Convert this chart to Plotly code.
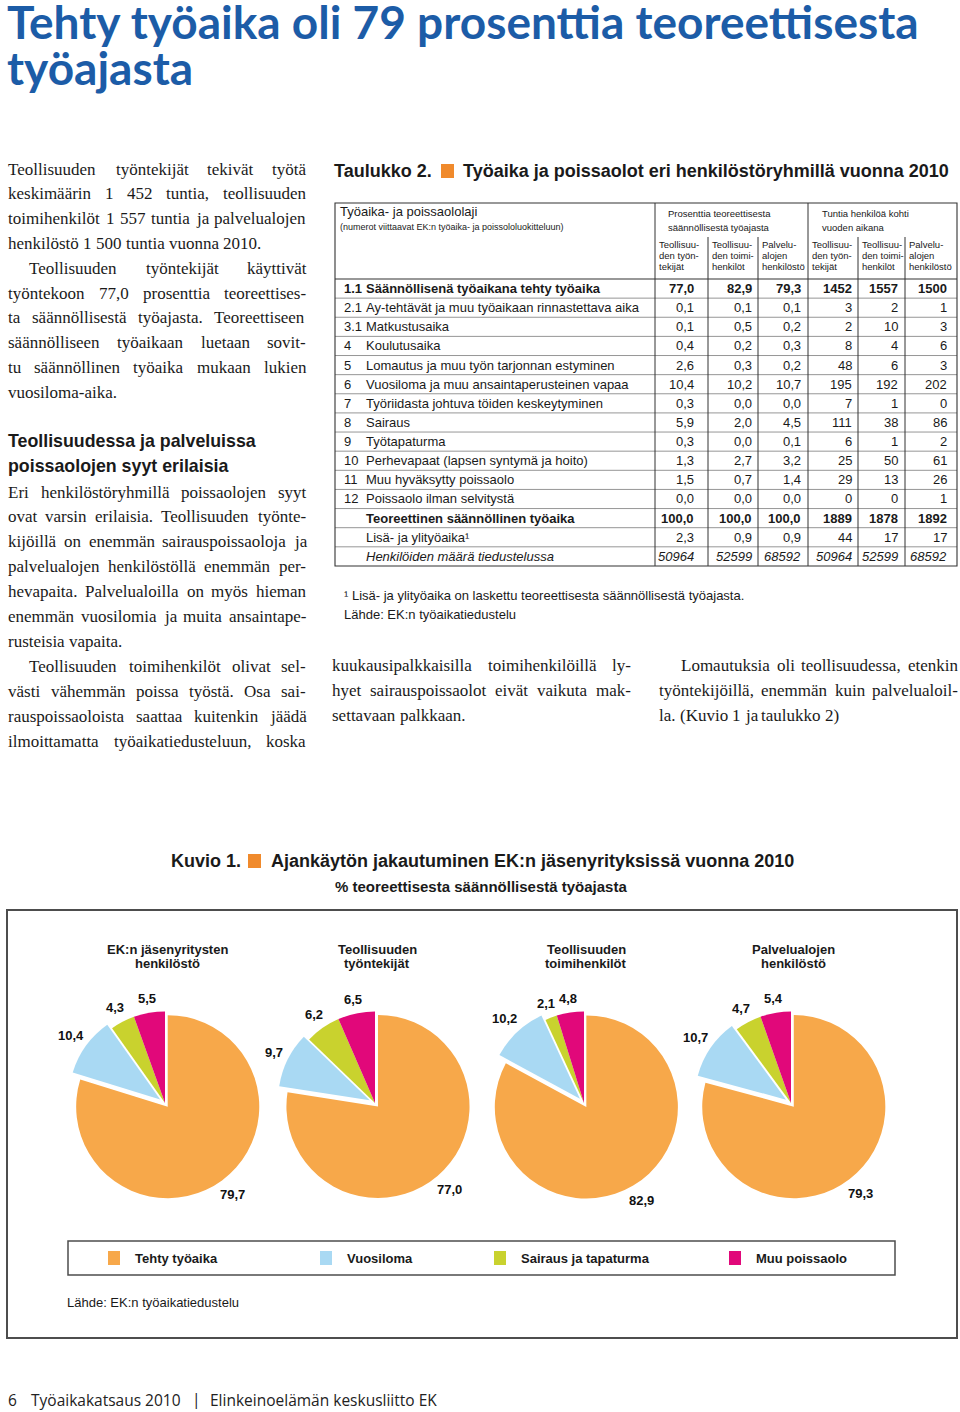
import math
import plotly.graph_objects as go

W, H = 960, 1412


def X(px):
    return px / W


def Y(py):
    return 1 - py / H


SANS = "Liberation Sans, Arial, Helvetica, sans-serif"
SERIF = "Liberation Serif, Times New Roman, serif"
TITLE_FONT = "Lato, Open Sans, sans-serif"
FOOT_FONT = "Open Sans, Lato, sans-serif"
INK = "#1a1a1a"

# ---------------- data ----------------
page_title = ["Tehty työaika oli 79 prosenttia teoreettisesta", "työajasta"]

pie_groups = [["EK:n jäsenyritysten", "henkilöstö"],
              ["Teollisuuden", "työntekijät"],
              ["Teollisuuden", "toimihenkilöt"],
              ["Palvelualojen", "henkilöstö"]]
time_categories = ["Tehty työaika", "Vuosiloma", "Sairaus ja tapaturma", "Muu poissaolo"]
category_colors = ["#F7A84A", "#A9D9F3", "#C9D22E", "#E1087A"]
share_ek = [79.7, 10.4, 4.3, 5.5]
share_tyontekijat = [77.0, 9.7, 6.2, 6.5]
share_toimihenkilot = [82.9, 10.2, 2.1, 4.8]
share_palvelu = [79.3, 10.7, 4.7, 5.4]

row_codes = ["1.1", "2.1", "3.1", "4", "5", "6", "7", "8", "9", "10", "11", "12", "", "", ""]
row_names = ["Säännöllisenä työaikana tehty työaika",
             "Ay-tehtävät ja muu työaikaan rinnastettava aika",
             "Matkustusaika",
             "Koulutusaika",
             "Lomautus ja muu työn tarjonnan estyminen",
             "Vuosiloma ja muu ansaintaperusteinen vapaa",
             "Työriidasta johtuva töiden keskeytyminen",
             "Sairaus",
             "Työtapaturma",
             "Perhevapaat (lapsen syntymä ja hoito)",
             "Muu hyväksytty poissaolo",
             "Poissaolo ilman selvitystä",
             "Teoreettinen säännöllinen työaika",
             "Lisä- ja ylityöaika¹",
             "Henkilöiden määrä tiedustelussa"]
pct_tyontekijat = [77.0, 0.1, 0.1, 0.4, 2.6, 10.4, 0.3, 5.9, 0.3, 1.3, 1.5, 0.0, 100.0, 2.3]
pct_toimihenkilot = [82.9, 0.1, 0.5, 0.2, 0.3, 10.2, 0.0, 2.0, 0.0, 2.7, 0.7, 0.0, 100.0, 0.9]
pct_palvelu = [79.3, 0.1, 0.2, 0.3, 0.2, 10.7, 0.0, 4.5, 0.1, 3.2, 1.4, 0.0, 100.0, 0.9]
hours_tyontekijat = [1452, 3, 2, 8, 48, 195, 7, 111, 6, 25, 29, 0, 1889, 44]
hours_toimihenkilot = [1557, 2, 10, 4, 6, 192, 1, 38, 1, 50, 13, 0, 1878, 17]
hours_palvelu = [1500, 1, 3, 6, 3, 202, 0, 86, 2, 61, 26, 1, 1892, 17]
respondents = [50964, 52599, 68592]
column_heads = [["Teollisuu-", "den työn-", "tekijät"],
                ["Teollisuu-", "den toimi-", "henkilöt"],
                ["Palvelu-", "alojen", "henkilöstö"]]

left_column = [
    ("Teollisuuden työntekijät tekivät työtä", 0, True),
    ("keskimäärin 1 452 tuntia, teollisuuden", 0, True),
    ("toimihenkilöt 1 557 tuntia ja palvelualojen", 0, True),
    ("henkilöstö 1 500 tuntia vuonna 2010.", 0, False),
    ("Teollisuuden työntekijät käyttivät", 21, True),
    ("työntekoon 77,0 prosenttia teoreettises-", 0, True),
    ("ta säännöllisestä työajasta. Teoreettiseen", 0, True),
    ("säännölliseen työaikaan luetaan sovit-", 0, True),
    ("tu säännöllinen työaika mukaan lukien", 0, True),
    ("vuosiloma-aika.", 0, False),
]
left_heading = ["Teollisuudessa ja palveluissa", "poissaolojen syyt erilaisia"]
left_column2 = [
    ("Eri henkilöstöryhmillä poissaolojen syyt", 0, True),
    ("ovat varsin erilaisia. Teollisuuden työnte-", 0, True),
    ("kijöillä on enemmän sairauspoissaoloja ja", 0, True),
    ("palvelualojen henkilöstöllä enemmän per-", 0, True),
    ("hevapaita. Palvelualoilla on myös hieman", 0, True),
    ("enemmän vuosilomia ja muita ansaintape-", 0, True),
    ("rusteisia vapaita.", 0, False),
    ("Teollisuuden toimihenkilöt olivat sel-", 21, True),
    ("västi vähemmän poissa työstä. Osa sai-", 0, True),
    ("rauspoissaoloista saattaa kuitenkin jäädä", 0, True),
    ("ilmoittamatta työaikatiedusteluun, koska", 0, True),
]
middle_column = [
    ("kuukausipalkkaisilla toimihenkilöillä ly-", 0, True),
    ("hyet sairauspoissaolot eivät vaikuta mak-", 0, True),
    ("settavaan palkkaan.", 0, False),
]
right_column = [
    ("Lomautuksia oli teollisuudessa, etenkin", 22, True),
    ("työntekijöillä, enemmän kuin palvelualoil-", 0, True),
    ("la. (Kuvio 1 ja taulukko 2)", 0, False),
]

# Times/Liberation Serif advance widths (1/1000 em)
TW = {' ': 250, 'a': 444, 'b': 500, 'c': 444, 'd': 500, 'e': 444, 'f': 333, 'g': 500, 'h': 500,
      'i': 278, 'j': 278, 'k': 500, 'l': 278, 'm': 778, 'n': 500, 'o': 500, 'p': 500, 'q': 500,
      'r': 333, 's': 389, 't': 278, 'u': 500, 'v': 500, 'w': 722, 'x': 500, 'y': 500, 'z': 444,
      'ä': 444, 'ö': 500, 'å': 444,
      'A': 722, 'B': 667, 'C': 667, 'D': 722, 'E': 611, 'F': 556, 'G': 722, 'H': 722, 'I': 333,
      'J': 389, 'K': 722, 'L': 611, 'M': 889, 'N': 722, 'O': 722, 'P': 556, 'Q': 722, 'R': 667,
      'S': 556, 'T': 611, 'U': 722, 'V': 722, 'W': 944, 'X': 722, 'Y': 722, 'Z': 611,
      ',': 250, '.': 250, '-': 333, '(': 333, ')': 333, ':': 278}
for d in "0123456789":
    TW[d] = 500

annotations = []
shapes = []


def txt(x, y, s, size, family=SANS, color=INK, bold=False, italic=False,
        xanchor="left", yanchor="middle"):
    if bold:
        s = f"<b>{s}</b>"
    if italic:
        s = f"<i>{s}</i>"
    annotations.append(dict(x=X(x), y=Y(y), xref="paper", yref="paper", text=s,
                            showarrow=False, xanchor=xanchor, yanchor=yanchor,
                            font=dict(family=family, size=size, color=color)))


def rect(x0, y0, x1, y1, color, width=1.0, fill=None):
    shapes.append(dict(type="rect", xref="paper", yref="paper",
                       x0=X(x0), x1=X(x1), y0=Y(y1), y1=Y(y0),
                       line=dict(color=color, width=width),
                       fillcolor=fill if fill else "rgba(0,0,0,0)"))


def line(x0, y0, x1, y1, color="#333", width=1.0):
    shapes.append(dict(type="line", xref="paper", yref="paper",
                       x0=X(x0), x1=X(x1), y0=Y(y0), y1=Y(y1),
                       line=dict(color=color, width=width)))


def word_w(word, size):
    return sum(TW.get(c, 500) for c in word) * size / 1000.0


def paragraph(lines, x0, x1, y0, dy, size=17):
    for k, (text, indent, justify) in enumerate(lines):
        y = y0 + k * dy
        words = text.split(" ")
        widths = [word_w(w, size) for w in words]
        start = x0 + indent
        if justify and len(words) > 1:
            gap = (x1 - start - sum(widths)) / (len(words) - 1)
        else:
            gap = TW[' '] * size / 1000.0
        x = start
        for w, ww in zip(words, widths):
            txt(x - 1, y, w, size, family=SERIF)
            x += ww + gap


# ---------------- page title ----------------
txt(5, 22, page_title[0], 46, family=TITLE_FONT, color="#1c5ca7", bold=True)
txt(5, 67, page_title[1], 46, family=TITLE_FONT, color="#1c5ca7", bold=True)

# ---------------- body text ----------------
paragraph(left_column, 7, 305, 169, 24.8)
txt(6, 441, left_heading[0], 17.8, bold=True)
txt(6, 466, left_heading[1], 17.8, bold=True)
paragraph(left_column2, 7, 305, 492, 24.9)
paragraph(middle_column, 331, 630, 666, 24.9)
paragraph(right_column, 658, 957, 666, 24.9)

# ---------------- table ----------------
txt(332, 171, "Taulukko 2.", 18, bold=True)
rect(441, 164, 454, 178, "#F08A2C", width=0, fill="#F08A2C")
txt(461, 171, "Työaika ja poissaolot eri henkilöstöryhmillä vuonna 2010", 18, bold=True)

col_edges = [335, 655, 708, 758, 808, 858, 905, 957]
value_right = [695, 753, 802, 853, 899, 948]
T_TOP, T_SUB, T_HEAD = 203, 237, 279
ROW_H = 19.13
n_rows = len(row_names)
T_BOT = T_HEAD + n_rows * ROW_H

for i in range(1, n_rows):
    yy = T_HEAD + i * ROW_H
    line(col_edges[0], yy, col_edges[-1], yy, "#8a8a8a", 0.9)
line(col_edges[0], T_HEAD, col_edges[-1], T_HEAD, "#333", 1.1)
for k, xe in enumerate(col_edges[1:-1], start=1):
    top = T_TOP if k in (1, 4) else T_SUB
    line(xe, top, xe, T_BOT, "#333", 1.0)
rect(col_edges[0], T_TOP, col_edges[-1], T_BOT, "#333", 1.1)

txt(338, 212, "Työaika- ja poissaololaji", 13)
txt(338, 227, "(numerot viittaavat EK:n työaika- ja poissololuokitteluun)", 9)
txt(666, 213, "Prosenttia teoreettisesta", 9.5)
txt(666, 227, "säännöllisestä työajasta", 9.5)
txt(820, 213, "Tuntia henkilöä kohti", 9.5)
txt(820, 227, "vuoden aikana", 9.5)
for c in range(6):
    head = column_heads[c % 3]
    for j, part in enumerate(head):
        txt(col_edges[c + 1] + 2, 245 + j * 10.6, part, 9.5)

value_cols = [pct_tyontekijat, pct_toimihenkilot, pct_palvelu,
              hours_tyontekijat, hours_toimihenkilot, hours_palvelu]
for i in range(n_rows):
    yc = T_HEAD + (i + 0.5) * ROW_H
    bold = i in (0, 12)
    italic = i == 14
    if row_codes[i]:
        txt(342, yc, row_codes[i], 13, bold=bold)
    txt(364, yc, row_names[i], 13, bold=bold, italic=italic)
    for c in range(6):
        if i < len(value_cols[c]):
            v = value_cols[c][i]
            s = f"{v:.1f}".replace(".", ",") if c < 3 else f"{v:d}"
        else:
            s = f"{respondents[c % 3]:d}"
        txt(value_right[c] + 1, yc, s, 13, bold=bold, italic=italic, xanchor="right")

txt(342, 595, "¹ Lisä- ja ylityöaika on laskettu teoreettisesta säännöllisestä työajasta.", 13)
txt(342, 614, "Lähde: EK:n työaikatiedustelu", 13)

# ---------------- figure (Kuvio 1) ----------------
txt(169, 861, "Kuvio 1.", 18, bold=True)
rect(248, 854, 261, 868, "#F08A2C", width=0, fill="#F08A2C")
txt(269, 861, "Ajankäytön jakautuminen EK:n jäsenyrityksissä vuonna 2010", 18, bold=True)
txt(481, 887, "% teoreettisesta säännöllisestä työajasta", 15, bold=True, xanchor="center")

rect(7, 910, 957, 1338, "#4d4d4d", 2)

pie_centers = [165, 375, 584, 791]
PIE_CY = 1103
PIE_HALF = 97.5
slice_pull = [0.05, 0.065, 0, 0]
PIE_R = PIE_HALF / (1 + max(slice_pull))
shares = [share_ek, share_tyontekijat, share_toimihenkilot, share_palvelu]

fig = go.Figure()
for k, vals in enumerate(shares):
    cx = pie_centers[k]
    fig.add_trace(go.Pie(
        values=vals, labels=time_categories, sort=False, direction="clockwise", rotation=0,
        marker=dict(colors=category_colors, line=dict(width=0)),
        pull=slice_pull, textinfo="none",
        domain=dict(x=[X(cx - PIE_HALF), X(cx + PIE_HALF)],
                    y=[Y(PIE_CY + PIE_HALF), Y(PIE_CY - PIE_HALF)]),
        showlegend=False, hoverinfo="label+value",
    ))
    # value labels just outside each slice, along its bisector
    total = sum(vals)
    cum = 0.0
    for j, v in enumerate(vals):
        mid = (cum + v / 2) / total * 2 * math.pi
        cum += v
        lab = f"{v:.1f}".replace(".", ",")
        sx, sy = math.sin(mid), -math.cos(mid)
        hw, hh = 2.5 * len(lab), 7
        dist = PIE_R * (1 + slice_pull[j]) + 6 + hw * abs(sx) + hh * abs(sy)
        txt(cx + dist * sx, PIE_CY + dist * sy, lab, 13, bold=True, color="#111", xanchor="center")
    txt(cx + 2, 949, pie_groups[k][0], 13, bold=True, xanchor="center")
    txt(cx + 2, 964, pie_groups[k][1], 13, bold=True, xanchor="center")

rect(68, 1241, 895, 1275, "#4d4d4d", 1.5)
legend_x = [108, 320, 494, 729]
for k, name in enumerate(time_categories):
    lx = legend_x[k]
    rect(lx, 1251, lx + 12, 1265, category_colors[k], width=0, fill=category_colors[k])
    txt(lx + 25, 1258, name, 13, bold=True)

txt(65, 1302, "Lähde: EK:n työaikatiedustelu", 13)

# ---------------- footer ----------------
txt(6, 1400, "6", 15.5, family=FOOT_FONT, color="#222")
txt(29, 1400, "Työaikakatsaus 2010", 15.5, family=FOOT_FONT, color="#222")
txt(190, 1399, "|", 15.5, family=FOOT_FONT, color="#222")
txt(208, 1400, "Elinkeinoelämän keskusliitto EK", 15.5, family=FOOT_FONT, color="#222")

fig.update_layout(
    width=W, height=H, autosize=False,
    margin=dict(l=0, r=0, t=0, b=0),
    paper_bgcolor="white", plot_bgcolor="white",
    separators=", ",
    annotations=annotations, shapes=shapes,
)
fig.write_html("out.html", config={"displayModeBar": False},
               post_script="document.body.style.margin='0';document.body.style.padding='0';")
